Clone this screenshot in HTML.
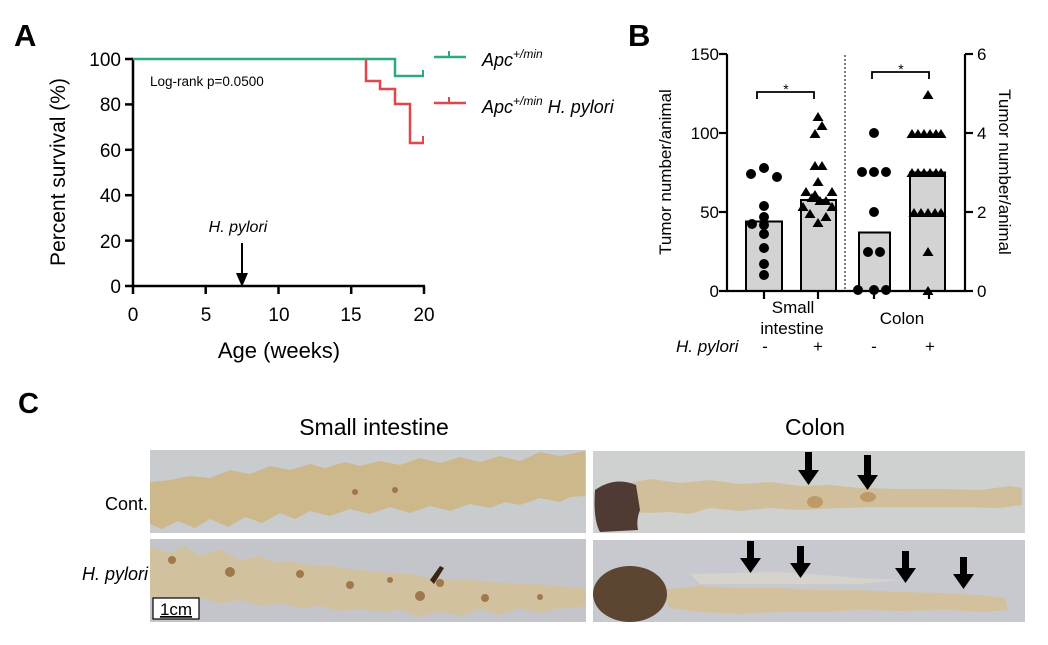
<!DOCTYPE html>
<html><head><meta charset="utf-8"><style>
html,body{margin:0;padding:0;background:#fff;}
svg{display:block;font-family:"Liberation Sans",Arial,sans-serif;}
</style></head><body>
<svg width="1048" height="645" viewBox="0 0 1048 645" xmlns="http://www.w3.org/2000/svg">
<!-- Panel A -->
<text x="14" y="46" font-size="31" font-weight="bold">A</text>
<g stroke="#000" stroke-width="2.5" fill="none">
<line x1="133" y1="58" x2="133" y2="287"/>
<line x1="132" y1="286" x2="425" y2="286"/>
<line x1="125" y1="59" x2="133" y2="59"/><line x1="125" y1="104.4" x2="133" y2="104.4"/>
<line x1="125" y1="149.8" x2="133" y2="149.8"/><line x1="125" y1="195.2" x2="133" y2="195.2"/>
<line x1="125" y1="240.6" x2="133" y2="240.6"/><line x1="125" y1="286" x2="133" y2="286"/>
<line x1="133" y1="286" x2="133" y2="294"/><line x1="205.7" y1="286" x2="205.7" y2="294"/>
<line x1="278.5" y1="286" x2="278.5" y2="294"/><line x1="351.2" y1="286" x2="351.2" y2="294"/>
<line x1="424" y1="286" x2="424" y2="294"/>
</g>
<g font-size="19" text-anchor="end">
<text x="121" y="66">100</text><text x="121" y="111">80</text><text x="121" y="157">60</text>
<text x="121" y="202">40</text><text x="121" y="248">20</text><text x="121" y="293">0</text>
</g>
<g font-size="19" text-anchor="middle">
<text x="133" y="321">0</text><text x="206" y="321">5</text><text x="279" y="321">10</text>
<text x="351" y="321">15</text><text x="424" y="321">20</text>
</g>
<text x="279" y="358" font-size="22" text-anchor="middle">Age (weeks)</text>
<text transform="translate(65,172) rotate(-90)" font-size="21" text-anchor="middle">Percent survival (%)</text>
<text x="150" y="86" font-size="13.5">Log-rank p=0.0500</text>
<polyline points="366,59 366,81 380,81 380,89 395,89 395,104 410,104 410,143 424,143" fill="none" stroke="#e0474c" stroke-width="2.5"/>
<line x1="423" y1="143" x2="423" y2="136" stroke="#e0474c" stroke-width="2"/>
<polyline points="133,59 395,59 395,76 424,76" fill="none" stroke="#2aab7a" stroke-width="2.5"/>
<line x1="423" y1="76" x2="423" y2="70" stroke="#2aab7a" stroke-width="2"/>
<line x1="434" y1="57" x2="466" y2="57" stroke="#2aab7a" stroke-width="2.5"/>
<line x1="449" y1="57" x2="449" y2="51" stroke="#2aab7a" stroke-width="2"/>
<line x1="434" y1="103" x2="466" y2="103" stroke="#e0474c" stroke-width="2.5"/>
<line x1="449" y1="103" x2="449" y2="97" stroke="#e0474c" stroke-width="2"/>
<text x="482" y="66" font-size="18" font-style="italic">Apc<tspan dy="-8" font-size="12">+/min</tspan></text>
<text x="482" y="113" font-size="18" font-style="italic">Apc<tspan dy="-8" font-size="12">+/min</tspan><tspan dy="8"> H. pylori</tspan></text>
<text x="238" y="232" font-size="16" font-style="italic" text-anchor="middle">H. pylori</text>
<line x1="242" y1="243" x2="242" y2="276" stroke="#000" stroke-width="2"/>
<polygon points="236,273 248,273 242,287" fill="#000"/>

<!-- Panel B -->
<text x="628" y="46" font-size="31" font-weight="bold">B</text>
<g fill="#d3d3d3" stroke="#000" stroke-width="2">
<rect x="746" y="221.5" width="36" height="69.5"/>
<rect x="801" y="200" width="35" height="91"/>
<rect x="859" y="232.5" width="31" height="58.5"/>
<rect x="910" y="172.5" width="35" height="118.5"/>
</g>
<g stroke="#000" stroke-width="2.2" fill="none">
<line x1="727" y1="54" x2="727" y2="292"/>
<line x1="726" y1="291" x2="966" y2="291"/>
<line x1="965" y1="54" x2="965" y2="292"/>
<line x1="719" y1="54" x2="727" y2="54"/><line x1="719" y1="133" x2="727" y2="133"/>
<line x1="719" y1="212" x2="727" y2="212"/><line x1="719" y1="291" x2="727" y2="291"/>
<line x1="965" y1="54" x2="973" y2="54"/><line x1="965" y1="133" x2="973" y2="133"/>
<line x1="965" y1="212" x2="973" y2="212"/><line x1="965" y1="291" x2="973" y2="291"/>
<line x1="764" y1="291" x2="764" y2="299"/><line x1="818" y1="291" x2="818" y2="299"/>
<line x1="874" y1="291" x2="874" y2="299"/><line x1="929" y1="291" x2="929" y2="299"/>
<polyline points="757,99 757,92 814,92 814,99" stroke-width="1.8"/>
<polyline points="872,79 872,72 929,72 929,79" stroke-width="1.8"/>
</g>
<line x1="845" y1="55" x2="845" y2="291" stroke="#000" stroke-width="1" stroke-dasharray="2,2"/>
<text x="786" y="94" font-size="14" text-anchor="middle">*</text>
<text x="901" y="74" font-size="14" text-anchor="middle">*</text>
<g font-size="17" text-anchor="end">
<text x="719" y="60">150</text><text x="719" y="139">100</text><text x="719" y="218">50</text><text x="719" y="297">0</text>
</g>
<g font-size="17">
<text x="977" y="60">6</text><text x="977" y="139">4</text><text x="977" y="218">2</text><text x="977" y="297">0</text>
</g>
<text transform="translate(671,172) rotate(-90)" font-size="17" text-anchor="middle">Tumor number/animal</text>
<text transform="translate(999,172) rotate(90)" font-size="17" text-anchor="middle">Tumor number/animal</text>
<g font-size="17" text-anchor="middle">
<text x="793" y="313">Small</text><text x="792" y="334">intestine</text>
<text x="902" y="324">Colon</text>
<text x="765" y="352">-</text><text x="818" y="352">+</text><text x="874" y="352">-</text><text x="930" y="352">+</text>
</g>
<text x="676" y="352" font-size="17" font-style="italic">H. pylori</text>
<g fill="#000">
<circle cx="751" cy="174" r="5"/><circle cx="764" cy="168" r="5"/><circle cx="777" cy="177" r="5"/>
<circle cx="764" cy="206" r="5"/><circle cx="764" cy="217" r="5"/><circle cx="752" cy="224" r="5"/>
<circle cx="764" cy="225" r="5"/><circle cx="764" cy="234" r="5"/><circle cx="764" cy="248" r="5"/>
<circle cx="764" cy="264" r="5"/><circle cx="764" cy="275" r="5"/>
<circle cx="874" cy="133" r="5"/><circle cx="862" cy="172" r="5"/><circle cx="874" cy="172" r="5"/><circle cx="886" cy="172" r="5"/>
<circle cx="874" cy="212" r="5"/><circle cx="868" cy="252" r="5"/><circle cx="880" cy="252" r="5"/>
<circle cx="858" cy="290" r="5"/><circle cx="874" cy="290" r="5"/><circle cx="886" cy="290" r="5"/>
</g>
<g fill="#000">
<path d="M818,112 l5.5,9 h-11z"/><path d="M822,121 l5.5,9 h-11z"/><path d="M815,129 l5.5,9 h-11z"/>
<path d="M815,161 l5.5,9 h-11z"/><path d="M822,161 l5.5,9 h-11z"/><path d="M818,177 l5.5,9 h-11z"/>
<path d="M806,187 l5.5,9 h-11z"/><path d="M832,187 l5.5,9 h-11z"/><path d="M812,193 l5.5,9 h-11z"/>
<path d="M820,196 l5.5,9 h-11z"/><path d="M803,202 l5.5,9 h-11z"/><path d="M832,202 l5.5,9 h-11z"/>
<path d="M810,209 l5.5,9 h-11z"/><path d="M826,212 l5.5,9 h-11z"/><path d="M818,218 l5.5,9 h-11z"/>
<path d="M826,196 l5.5,9 h-11z"/><path d="M815,190 l5.5,9 h-11z"/>
<path d="M928,90 l5.5,9 h-11z"/>
<path d="M912,129 l5.5,9 h-11z"/><path d="M918,129 l5.5,9 h-11z"/><path d="M924,129 l5.5,9 h-11z"/><path d="M930,129 l5.5,9 h-11z"/><path d="M936,129 l5.5,9 h-11z"/><path d="M941,129 l5.5,9 h-11z"/>
<path d="M912,168 l5.5,9 h-11z"/><path d="M918,168 l5.5,9 h-11z"/><path d="M924,168 l5.5,9 h-11z"/><path d="M930,168 l5.5,9 h-11z"/><path d="M936,168 l5.5,9 h-11z"/><path d="M941,168 l5.5,9 h-11z"/>
<path d="M914,208 l5.5,9 h-11z"/><path d="M921,208 l5.5,9 h-11z"/><path d="M928,208 l5.5,9 h-11z"/><path d="M935,208 l5.5,9 h-11z"/><path d="M941,208 l5.5,9 h-11z"/>
<path d="M928,247 l5.5,9 h-11z"/><path d="M928,286 l5.5,9 h-11z"/>
</g>

<!-- Panel C -->
<text x="18" y="413" font-size="29" font-weight="bold">C</text>
<text x="374" y="435" font-size="23" text-anchor="middle">Small intestine</text>
<text x="815" y="435" font-size="23" text-anchor="middle">Colon</text>
<text x="148" y="510" font-size="18" text-anchor="end">Cont.</text>
<text x="148" y="580" font-size="18" font-style="italic" text-anchor="end">H. pylori</text>

<rect x="150" y="450" width="436" height="83" fill="#c9ccce"/>
<polygon points="150,482 170,480 190,476 210,478 230,470 250,474 270,466 290,470 310,464 325,468 345,462 360,466 380,461 400,465 420,458 440,463 460,457 480,462 500,456 520,461 540,452 560,456 585,451 585,496 570,497 560,502 540,498 520,505 505,502 490,508 470,504 450,511 430,506 410,513 390,507 370,514 350,509 330,516 310,511 295,519 280,513 262,523 245,517 228,527 210,519 195,528 178,521 162,529 150,524" fill="#cdb88c"/>
<rect x="150" y="539" width="436" height="83" fill="#c4c5ca"/>
<polygon points="150,547 170,553 185,546 200,556 220,549 240,560 260,556 275,563 290,561 310,565 330,566 350,569 370,571 390,573 410,574 430,578 450,579 470,580 490,582 510,583 530,584 550,585 570,587 586,589 586,606 570,608 555,609 540,613 520,608 500,615 480,609 460,616 440,611 420,617 400,610 380,612 360,609 340,611 320,606 300,608 280,603 260,606 240,600 220,603 200,598 180,601 165,596 150,598" fill="#d2c19f"/>
<g fill="#8a5a2a" opacity="0.7">
<circle cx="172" cy="560" r="4"/><circle cx="230" cy="572" r="5"/><circle cx="300" cy="574" r="4"/><circle cx="350" cy="585" r="4"/>
<circle cx="390" cy="580" r="3"/><circle cx="420" cy="596" r="5"/><circle cx="440" cy="583" r="4"/><circle cx="485" cy="598" r="4"/><circle cx="540" cy="597" r="3"/>
<circle cx="355" cy="492" r="3"/><circle cx="395" cy="490" r="3"/>
</g>
<path d="M430,580 L440,566 L444,568 L434,584z" fill="#3a2414"/>
<rect x="153" y="598" width="46" height="21" fill="#fff" stroke="#000" stroke-width="1.2"/>
<text x="176" y="615" font-size="17" text-anchor="middle" text-decoration="underline">1cm</text>

<rect x="593" y="451" width="432" height="82" fill="#cfd0d0"/>
<polygon points="625,484 650,479 680,483 710,480 740,484 770,482 800,486 830,485 860,488 900,489 940,489 980,490 1010,486 1022,488 1022,505 1000,508 960,507 920,507 880,507 840,508 800,510 770,508 740,511 710,508 690,514 670,512 650,513 630,512" fill="#d0bf9a"/>
<ellipse cx="815" cy="502" rx="8" ry="6" fill="#b78a52" opacity="0.7"/>
<ellipse cx="868" cy="497" rx="8" ry="5" fill="#b78a52" opacity="0.7"/>
<path d="M595,490 Q615,476 636,485 L640,510 Q636,520 638,530 L600,532 Q593,520 595,490z" fill="#4f3a34"/>
<rect x="593" y="540" width="432" height="82" fill="#c8c9ce"/>
<polygon points="660,590 700,586 740,588 780,588 820,590 860,590 900,592 940,593 980,595 1005,598 1008,610 985,612 950,610 900,611 860,610 820,612 780,612 740,614 700,612 670,608" fill="#d3c19d"/>
<polygon points="690,574 780,572 860,578 900,580 860,584 780,584 700,584" fill="#d5d3cc"/>
<ellipse cx="630" cy="594" rx="37" ry="28" fill="#5c4632"/>
<g fill="#000">
<rect x="805" y="452" width="7" height="20"/><polygon points="798,470 819,470 808.5,485"/>
<rect x="864" y="455" width="7" height="22"/><polygon points="857,475 878,475 867.5,490"/>
<rect x="747" y="541" width="7" height="19"/><polygon points="740,558 761,558 750.5,573"/>
<rect x="797" y="546" width="7" height="19"/><polygon points="790,563 811,563 800.5,578"/>
<rect x="902" y="551" width="7" height="19"/><polygon points="895,568 916,568 905.5,583"/>
<rect x="960" y="557" width="7" height="19"/><polygon points="953,574 974,574 963.5,589"/>
</g>
</svg>
</body></html>
